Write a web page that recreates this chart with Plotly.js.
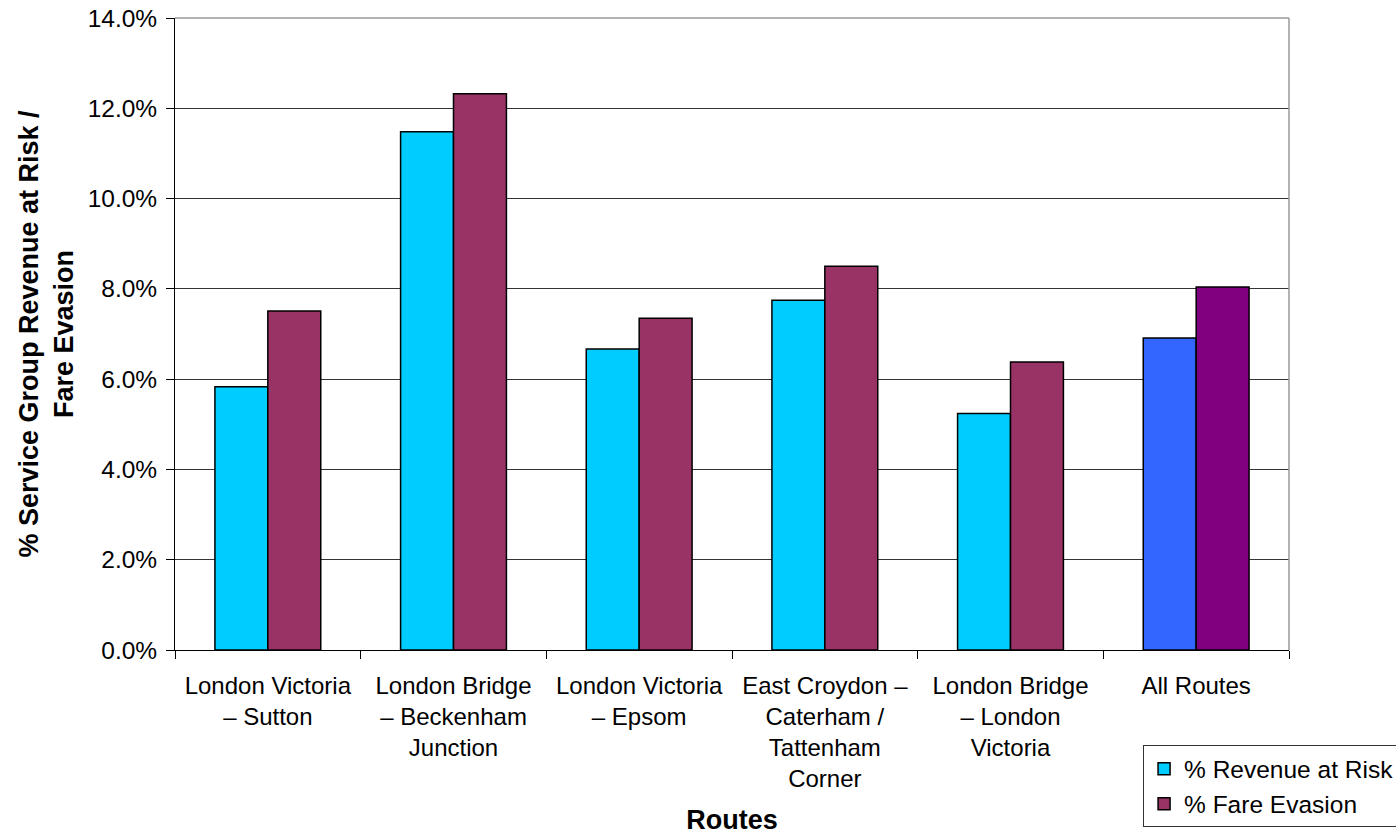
<!DOCTYPE html>
<html>
<head>
<meta charset="utf-8">
<script src="https://cdn.plot.ly/plotly-3.0.1.min.js"></script>
<style>html,body{margin:0;padding:0;background:#fff;}#chart{width:1396px;height:835px;}</style>
</head>
<body>
<div id="chart"></div>
<script>
const categories = [
  "London Victoria<br>– Sutton",
  "London Bridge<br>– Beckenham<br>Junction",
  "London Victoria<br>– Epsom",
  "East Croydon –<br>Caterham /<br>Tattenham<br>Corner",
  "London Bridge<br>– London<br>Victoria",
  "All Routes"
];
const revenueAtRisk = [5.83, 11.48, 6.67, 7.75, 5.24, 6.91];
const fareEvasion   = [7.51, 12.32, 7.35, 8.50, 6.38, 8.04];
const revenueColors = ["#00CCFF", "#00CCFF", "#00CCFF", "#00CCFF", "#00CCFF", "#3366FF"];
const evasionColors = ["#993366", "#993366", "#993366", "#993366", "#993366", "#800080"];
const yTicks = [0, 2, 4, 6, 8, 10, 12, 14];
const yTickLabels = ["0.0%", "2.0%", "4.0%", "6.0%", "8.0%", "10.0%", "12.0%", "14.0%"];

const font = "Liberation Sans, Arial, Helvetica, sans-serif";

const traces = [
  {type: "bar", name: "% Revenue at Risk", x: categories, y: revenueAtRisk,
   marker: {color: revenueColors, line: {color: "#000", width: 1.5}}},
  {type: "bar", name: "% Fare Evasion", x: categories, y: fareEvasion,
   marker: {color: evasionColors, line: {color: "#000", width: 1.5}}}
];

const layout = {
  width: 1396, height: 835,
  margin: {l: 175, r: 107, t: 18, b: 185, autoexpand: false},
  paper_bgcolor: "#fff", plot_bgcolor: "#fff",
  font: {family: font, size: 24, color: "#000"},
  barmode: "group", bargap: 0.43, bargroupgap: 0,
  showlegend: true,
  legend: {x: 0.869, y: -0.151, xanchor: "left", yanchor: "top",
           bordercolor: "#333", borderwidth: 1, bgcolor: "#fff",
           font: {family: font, size: 24.5, color: "#000"},
           tracegroupgap: 0},
  xaxis: {
    type: "category", tickson: "boundaries", ticks: "outside", ticklen: 8,
    tickcolor: "#000", showline: true, linecolor: "#000", linewidth: 1,
    showgrid: false, automargin: false, ticklabelstandoff: 14,
    tickfont: {family: font, size: 24, color: "#000"},
    title: {text: "Routes", font: {family: font, size: 27, color: "#000", weight: "bold"}, standoff: 20}
  },
  yaxis: {
    range: [0, 14], tickvals: yTicks, ticktext: yTickLabels,
    ticks: "outside", ticklen: 8, tickcolor: "#000",
    showline: true, linecolor: "#000", linewidth: 1,
    showgrid: true, gridcolor: "#333", gridwidth: 1, zeroline: false,
    automargin: false, ticklabelstandoff: 4,
    tickfont: {family: font, size: 24.5, color: "#000"},
    title: {text: "% Service Group Revenue at Risk /<br>Fare Evasion",
            font: {family: font, size: 27, color: "#000", weight: "bold"}, standoff: 6}
  },
  shapes: [
    {type: "line", xref: "paper", yref: "paper", x0: 0, x1: 1, y0: 1, y1: 1, line: {color: "#999", width: 1.5}},
    {type: "line", xref: "paper", yref: "paper", x0: 1, x1: 1, y0: 0, y1: 1, line: {color: "#999", width: 1.5}}
  ]
};

Plotly.newPlot("chart", traces, layout, {displayModeBar: false, staticPlot: true});
</script>
</body>
</html>
